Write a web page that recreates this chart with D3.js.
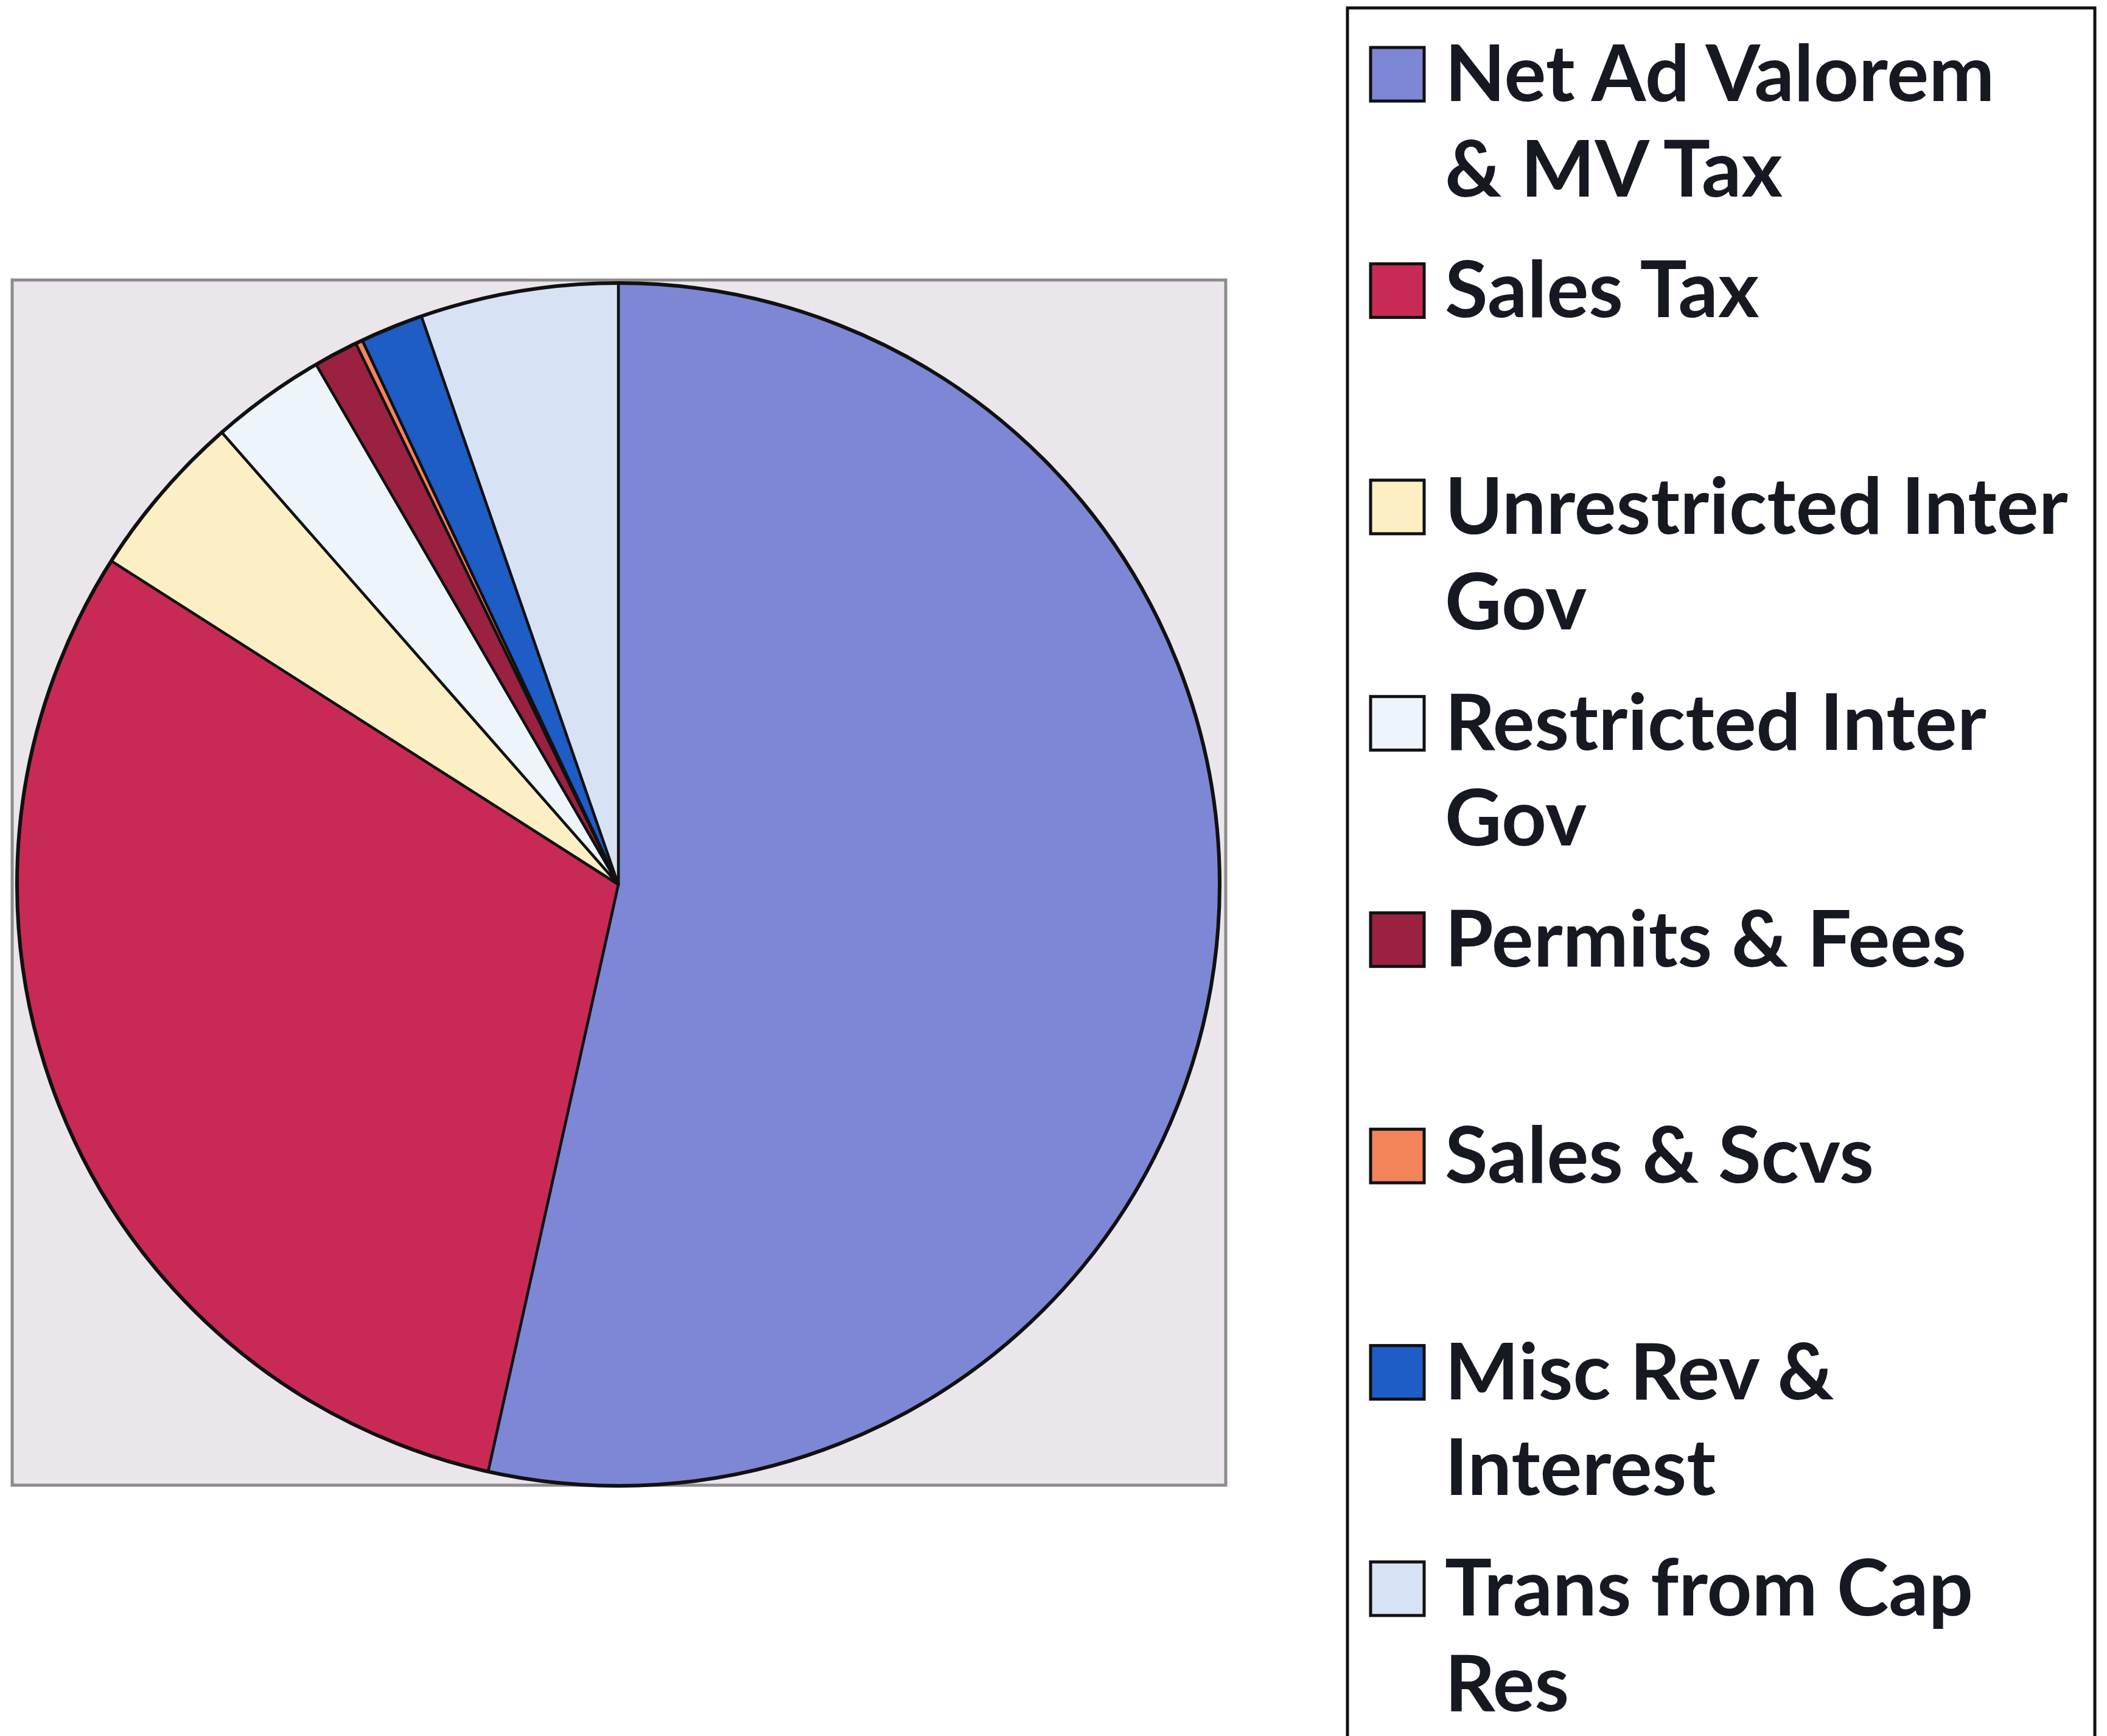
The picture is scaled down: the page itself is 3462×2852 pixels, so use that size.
<!DOCTYPE html>
<html>
<head>
<meta charset="utf-8">
<script src="https://cdn.jsdelivr.net/npm/d3@7"></script>
<style>
  html, body { margin: 0; padding: 0; background: #ffffff; }
</style>
</head>
<body>
<div id="chart"></div>
<script>
// revenue pie with the legend box on the right

var categories = ['Net Ad Valorem & MV Tax', 'Sales Tax', 'Unrestricted Inter Gov', 'Restricted Inter Gov',
                  'Permits & Fees', 'Sales & Scvs', 'Misc Rev & Interest', 'Trans from Cap Res'];
var shares = [53.47, 30.56, 4.5, 3.08, 1.19, 0.19, 1.69, 5.31];
var legendLines = [['Net Ad Valorem', '& MV Tax'], ['Sales Tax'], ['Unrestricted Inter', 'Gov'],
                   ['Restricted Inter', 'Gov'], ['Permits & Fees'], ['Sales & Scvs'],
                   ['Misc Rev &', 'Interest'], ['Trans from Cap', 'Res']];
var colors = ['#7d87d6', '#c92a55', '#fcefc4', '#edf5fa', '#9a2140', '#f2845a', '#1e5cc6', '#d7e3f4'];

(function() {
  var width = 3462, height = 2852;

  var svg = d3.select("#chart")
    .append("svg")
    .attr("width", width)
    .attr("height", height);

  var data = categories.map(function(c, i) {
    return { name: c, value: shares[i], lines: legendLines[i], color: colors[i] };
  });

  // plot area
  svg.append("rect")
    .attr("x", 20)
    .attr("y", 460)
    .attr("width", 1994)
    .attr("height", 1980)
    .attr("fill", "#ebe6eb")
    .attr("stroke", "#8c8c8c")
    .attr("stroke-width", 5);

  var radius = 988;
  var g = svg.append("g").attr("transform", "translate(" + 1016 + "," + 1453 + ")");

  var pie = d3.pie()
    .sort(null)
    .value(function(d) { return d.value; });

  var arc = d3.arc()
    .innerRadius(0)
    .outerRadius(radius);

  g.selectAll(".slice")
    .data(pie(data))
    .enter().append("path")
    .attr("class", "slice")
    .attr("d", arc)
    .attr("fill", function(d) { return d.data.color; })
    .attr("stroke", "#111111")
    .attr("stroke-width", 4.5)
    .attr("stroke-linejoin", "round");

  g.append("circle")
    .attr("r", radius)
    .attr("fill", "none")
    .attr("stroke", "#111111")
    .attr("stroke-width", 6);

  // legend
  svg.append("rect")
    .attr("x", 2214)
    .attr("y", 13)
    .attr("width", 1228)
    .attr("height", 2860)
    .attr("fill", "#ffffff")
    .attr("stroke", "#111111")
    .attr("stroke-width", 5);

  var slot = d3.scaleLinear()
    .domain([0, categories.length - 1])
    .range([166, 2654]);

  var item = svg.selectAll(".legend-item")
    .data(data)
    .enter().append("g")
    .attr("class", "legend-item")
    .attr("transform", function(d, i) { return "translate(0," + slot(i) + ")"; });

  item.append("rect")
    .attr("x", 2252)
    .attr("y", -88)
    .attr("width", 88)
    .attr("height", 88)
    .attr("fill", function(d) { return d.color; })
    .attr("stroke", "#111111")
    .attr("stroke-width", 5);

  item.selectAll("text")
    .data(function(d) { return d.lines; })
    .enter().append("text")
    .attr("x", 2374)
    .attr("y", function(d, j) { return j * 157; })
    .attr("font-family", "Lato, 'Open Sans', sans-serif")
    .attr("font-weight", "bold")
    .attr("font-size", 129)
    .attr("fill", "#161922")
    .text(function(d) { return d; });
})();
</script>
</body>
</html>
